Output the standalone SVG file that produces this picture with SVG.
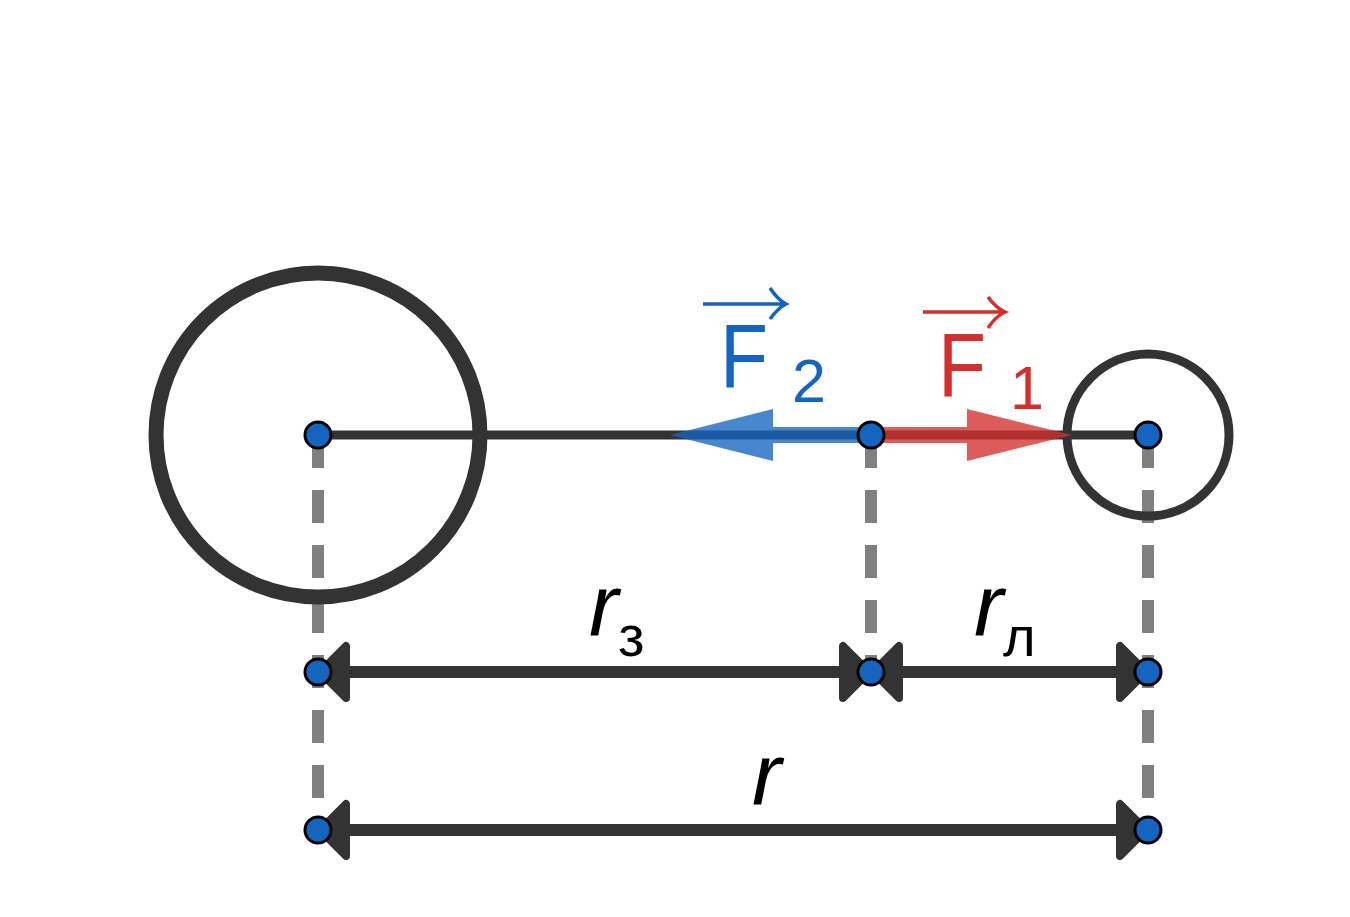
<svg xmlns="http://www.w3.org/2000/svg" width="1350" height="917" viewBox="0 0 1350 917">
<style>
.body{fill:none;stroke:#333;}
.dash{stroke:#808080;stroke-width:12;stroke-dasharray:33 22;fill:none;}
.dim{stroke:#333;stroke-width:12;fill:none;}
.head{fill:#333;stroke:#333;stroke-width:8;stroke-linejoin:round;}
.pt{fill:#1565c0;stroke:#000;stroke-width:3;}
.lbl{font-family:"Liberation Sans","DejaVu Sans",sans-serif;}
.ital{font-family:"Liberation Sans","DejaVu Sans",sans-serif;font-style:italic;fill:#000;}
.sub{font-style:normal;}
</style>
<rect width="1350" height="917" fill="#fff"/>
<g id="connectors">
<path class="dash" d="M318 435V830M871 435V672M1148 435V830"/>
<line x1="318" y1="435" x2="1148" y2="435" stroke="#333" stroke-width="9"/>
<path class="dim" d="M340 672H850M893 672H1126M340 830H1126"/>
<path class="head" d="M320 672L346 646V698Z"/>
<path class="head" d="M869 672L843 646V698Z"/>
<path class="head" d="M873 672L899 646V698Z"/>
<path class="head" d="M1146 672L1120 646V698Z"/>
<path class="head" d="M320 830L346 804V856Z"/>
<path class="head" d="M1146 830L1120 804V856Z"/>
</g>
<g id="earth"><circle class="body" cx="318" cy="435" r="162" stroke-width="15"/></g>
<g id="moon"><circle class="body" cx="1148" cy="435" r="81" stroke-width="9"/></g>
<g id="F2" opacity="0.78">
<line x1="871" y1="435" x2="770" y2="435" stroke="#1565c0" stroke-width="16" stroke-linecap="round"/>
<path d="M670 435L773 409V461Z" fill="#1565c0"/>
</g>
<g id="F1" opacity="0.78">
<line x1="871" y1="435" x2="968" y2="435" stroke="#d32f2f" stroke-width="16" stroke-linecap="round"/>
<path d="M1072 435L967 409V461Z" fill="#d32f2f"/>
</g>
<g id="F2-label" fill="#1565c0">
<text class="lbl" x="720" y="387" font-size="90" textLength="48" lengthAdjust="spacingAndGlyphs">F</text>
<text class="lbl" x="792" y="402" font-size="61">2</text>
<path d="M703 304H786M770 288Q778 300 786 304Q778 308 770 319" fill="none" stroke="#1565c0" stroke-width="3.5"/>
</g>
<g id="F1-label" fill="#d32f2f">
<text class="lbl" x="938" y="396" font-size="90" textLength="48" lengthAdjust="spacingAndGlyphs">F</text>
<text class="lbl" x="1010" y="409" font-size="61">1</text>
<path d="M923 312H1005M988 297Q996 308 1005 312Q996 316 988 328" fill="none" stroke="#d32f2f" stroke-width="3.5"/>
</g>
<g id="r3-label">
<text class="ital" x="589" y="636" font-size="88">r<tspan class="sub" x="618" y="656" font-size="58">з</tspan></text>
</g>
<g id="rl-label">
<text class="ital" x="974" y="636" font-size="88">r<tspan class="sub" x="1003" y="656" font-size="56">л</tspan></text>
</g>
<g id="r-label">
<text class="ital" x="752" y="805" font-size="88">r</text>
</g>
<g id="points">
<circle class="pt" cx="318" cy="435" r="13"/>
<circle class="pt" cx="871" cy="435" r="13"/>
<circle class="pt" cx="1148" cy="435" r="13"/>
<circle class="pt" cx="318" cy="672" r="13"/>
<circle class="pt" cx="871" cy="672" r="13"/>
<circle class="pt" cx="1148" cy="672" r="13"/>
<circle class="pt" cx="318" cy="830" r="13"/>
<circle class="pt" cx="1148" cy="830" r="13"/>
</g>
</svg>
